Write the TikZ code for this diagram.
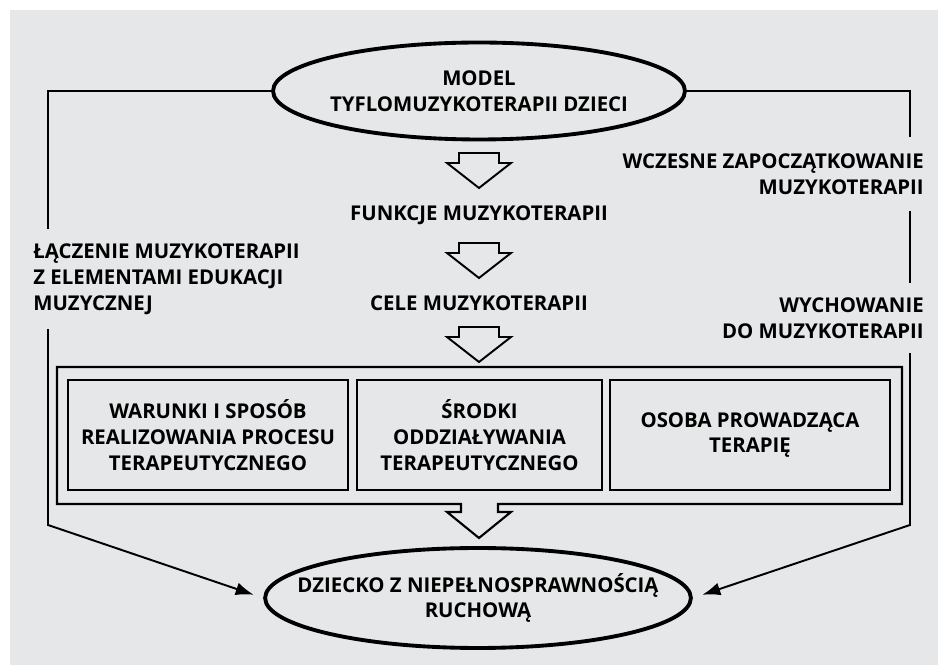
\documentclass[tikz,border=0pt]{standalone}
\usepackage{fontspec}
\setmainfont{Open Sans}
\usepackage{xcolor}
\definecolor{backdrop}{HTML}{E6E7E8}
\usetikzlibrary{shapes.geometric}
\usetikzlibrary{arrows.meta}
\usetikzlibrary{positioning}
\usetikzlibrary{calc}

\tikzset{
  oval/.style={ellipse, draw, line width=2.2pt, fill=backdrop, inner xsep=-0.6cm, inner ysep=0pt, minimum width=8.24cm, minimum height=1.94cm},
  panel/.style={rectangle, draw, line width=1.4pt, inner sep=0pt, minimum height=2.2cm},
  sidetext/.style={fill=backdrop, inner xsep=0.04cm, inner ysep=0.3cm},
  link/.style={line width=1.1pt},
  linkarrow/.style={link, -{Latex[length=0.36cm, width=0.26cm]}, shorten >=0.2cm},
  hollowarrow/.pic={\draw[line width=1.1pt, fill=backdrop] (-20,0) -- (20,0) -- (20,10) -- (32,10) -- (0,35) -- (-32,10) -- (-20,10) -- cycle;}
}

\begin{document}
\begin{tikzpicture}[x=0.02cm, y=-0.02cm, every node/.style={font=\bfseries\fontsize{11.6}{14.7}\selectfont, align=center}]

  \useasboundingbox (0,0) rectangle (938,665);
  \fill[backdrop] (10,10) rectangle (938,665);

% Model and child
  \node[oval] (model) at (479,91) {MODEL\\TYFLOMUZYKOTERAPII DZIECI};
  \node[oval, minimum width=8.34cm, minimum height=2cm] (dziecko) at (478,598) {DZIECKO Z NIEPEŁNOSPRAWNOŚCIĄ\\RUCHOWĄ};

% Middle column
  \pic at (479,153) {hollowarrow};
  \node (funkcje) at (479,215) {FUNKCJE MUZYKOTERAPII};
  \pic at (479,243) {hollowarrow};
  \node (cele) at (479,303) {CELE MUZYKOTERAPII};
  \pic at (479,327) {hollowarrow};

  % frame with arrow
  \draw[line width=1.2pt] (57,367) -- (902,367) -- (902,504) -- (498,504) -- (498,512) -- (511,512) -- (479,538) -- (447,512) -- (461,512) -- (461,504) -- (57,504) -- cycle;

  \node[panel, minimum width=5.6cm] (warunki) at (208,435) {WARUNKI I SPOSÓB\\REALIZOWANIA PROCESU\\TERAPEUTYCZNEGO};
  \node[panel, minimum width=4.9cm] (srodki) at (479.5,435) {ŚRODKI\\ODDZIAŁYWANIA\\TERAPEUTYCZNEGO};
  \node[panel, minimum width=5.6cm] (osoba) at (750,435) {OSOBA PROWADZĄCA\\TERAPIĘ};

% Side connectors
  \coordinate (lbend) at (48,525);
  \coordinate (rbend) at (910,525);
  \draw[linkarrow] (model.west) -| (lbend) -- (dziecko.west);
  \draw[linkarrow] (model.east) -| (rbend) -- (dziecko.east);

  \node[sidetext, anchor=west, align=left] (laczenie) at (31,279) {ŁĄCZENIE MUZYKOTERAPII\\Z ELEMENTAMI EDUKACJI\\MUZYCZNEJ};
  \node[sidetext, anchor=east, align=right, inner ysep=0.33cm] (wczesne) at (926,174) {WCZESNE ZAPOCZĄTKOWANIE\\MUZYKOTERAPII};
  \node[sidetext, anchor=east, align=right] (wychowanie) at (926,318) {WYCHOWANIE\\DO MUZYKOTERAPII};

\end{tikzpicture}
\end{document}
